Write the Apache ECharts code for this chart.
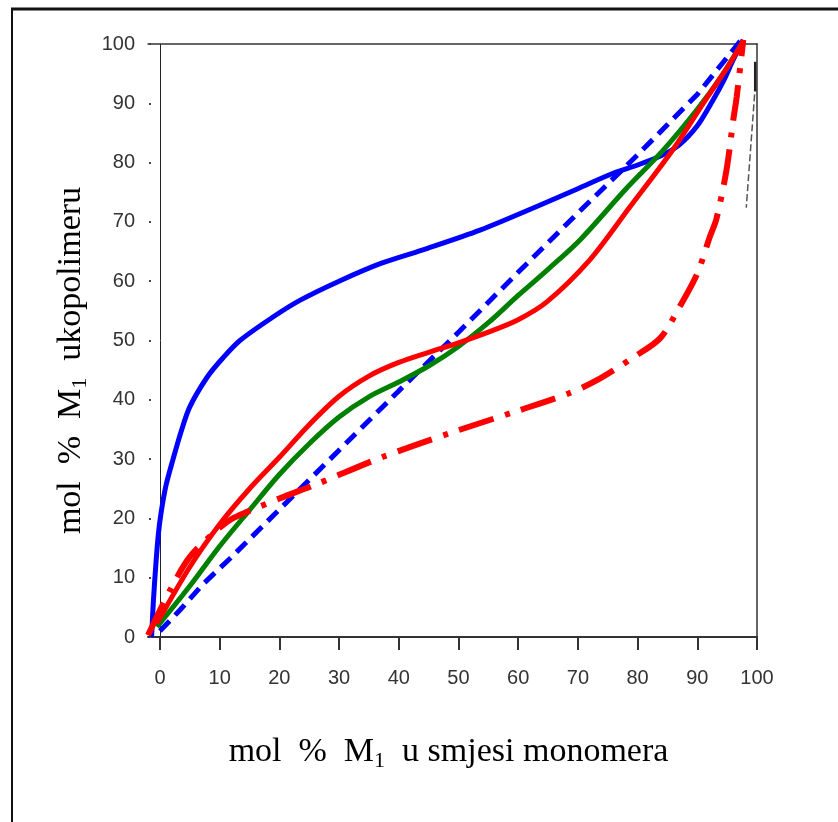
<!DOCTYPE html>
<html><head><meta charset="utf-8">
<script src="https://cdn.jsdelivr.net/npm/echarts@6/dist/echarts.min.js"></script>
<style>html,body{margin:0;padding:0;background:#fff}#c{width:838px;height:822px}</style>
</head><body><div id="c"></div>
<script>
// x = mol % M1 in monomer feed, y = mol % M1 in copolymer
const blueSolid = [[-1.4,0],[-1.1,6],[-0.7,12],[-0.3,17],[0.2,21],[1,25.5],[2.2,30],[3.5,34.5],[5,38.8],[7.9,43.8],[10.5,47],[13.4,50],[19,54],[23.5,56.8],[30,60],[37,63],[44.7,65.5],[53.6,68.6],[63.6,72.8],[70,75.6],[75.9,78.2],[80,79.6],[84,81.2],[87,83],[90,86.2],[92.5,90.3],[94.5,94],[96,97.3],[97.7,100.7]];
const blueDashed = [[0,1],[3.4,4.6],[7.2,8.9],[11.7,13.2],[20,21.5],[30,31.5],[40,41.5],[50,51.4],[60,61.5],[70,71.5],[80,81.3],[90,91.5],[98,101.5]];
const greenSolid = [[-0.5,1.7],[5,8.6],[10,15.3],[15,21.4],[20,27.4],[25,32.6],[30,37.1],[35,40.5],[40,43],[45,45.7],[50,49],[55,53],[60,57.6],[65,62],[70.4,67],[78,75.5],[84.3,82.1],[90,89],[94,94.5],[97.7,100.5]];
const redSolid = [[-0.5,2.3],[5,11.8],[10,19],[15,25],[20,30.3],[25,35.8],[30,40.6],[35,44],[40,46.3],[45,48],[50,49.6],[55,51.4],[60,53.5],[64.8,56.5],[72,63.6],[78.7,72.5],[86,82.3],[91,90],[95,96],[97.7,100.5]];
const redDashDot = [[-2,0.3],[1.7,7.9],[5,13.5],[9.5,18],[12,19.9],[14.6,21.1],[20.1,23.4],[26.3,25.8],[37.4,30.4],[48.6,34.4],[59.8,38.1],[68.5,41.1],[73.2,43.3],[79.2,47.1],[83.8,50.4],[87.1,55.8],[90,61.3],[92.1,67.5],[93.2,70.5],[94.9,78.8],[96,87],[96.6,91.1],[97.7,100.7]];
const strayMarkSolid = [[99.7,97],[99.7,92]];
const strayMarkDashed = [[99.6,91.5],[98.2,72.4]];
const xTickValues = [0,10,20,30,40,50,60,70,80,90,100];
const yTickValues = [0,10,20,30,40,50,60,70,80,90,100];
const xTitle = '{a|mol  %  M}{s|1}{a|  u smjesi monomera}';
const yTitle = '{a|mol  %  M}{s|1}{a|  ukopolimeru}';

const chart = echarts.init(document.getElementById('c'), null, {renderer:'canvas'});
const lab = {color:'#333', fontFamily:'Liberation Sans, Arial, sans-serif', fontSize:20};
const titleRich = {
  a:{fontFamily:'Liberation Serif, Times New Roman, serif', fontSize:34, color:'#000', lineHeight:40},
  s:{fontFamily:'Liberation Serif, Times New Roman, serif', fontSize:22, color:'#000', verticalAlign:'bottom', lineHeight:27}
};
const lineS = (name, data, color, type, width) => ({
  name, type:'line', data, symbol:'none', smooth:0.3, clip:false,
  xAxisIndex:0, yAxisIndex:0,
  lineStyle:{color, width, type, cap:'butt'}, z:3
});
chart.setOption({
  animation:false,
  backgroundColor:'#fff',
  grid:{left:148, right:81, top:44, bottom:185, containLabel:false},
  graphic:[
    {type:'line', shape:{x1:11, y1:9, x2:838, y2:9}, style:{stroke:'#111', lineWidth:3}},
    {type:'line', shape:{x1:12, y1:8, x2:12, y2:822}, style:{stroke:'#111', lineWidth:2}}
  ],
  xAxis:[
    {type:'value', position:'bottom', min:-2, max:100,
     axisLine:{show:true, onZero:false, lineStyle:{color:'#333', width:2}},
     axisTick:{show:true, length:13, customValues:xTickValues, lineStyle:{color:'#333', width:2}},
     axisLabel:Object.assign({margin:31, customValues:xTickValues, formatter:v=>String(v)}, lab),
     splitLine:{show:false},
     name:xTitle, nameLocation:'middle', nameGap:95,
     nameTextStyle:{rich:titleRich, padding:[0,8,0,0]}},
    {type:'value', position:'top', min:-2, max:100,
     axisLine:{show:true, onZero:false, lineStyle:{color:'#333', width:1.5}},
     axisTick:{show:false}, axisLabel:{show:false}, splitLine:{show:false}}
  ],
  yAxis:[
    {type:'value', position:'left', min:0, max:100, interval:10,
     axisLine:{show:true, onZero:true, lineStyle:{color:'#222', width:1}},
     axisTick:{show:false}, axisLabel:{show:false}, splitLine:{show:false}},
    {type:'value', position:'right', min:0, max:100, interval:10,
     axisLine:{show:true, onZero:false, lineStyle:{color:'#333', width:1.5}},
     axisTick:{show:false}, axisLabel:{show:false}, splitLine:{show:false}},
    {type:'value', position:'left', offset:-3, min:0, max:100, interval:10,
     axisLine:{show:false, onZero:false},
     axisTick:{show:true, length:2, customValues:yTickValues, lineStyle:{color:'#444', width:2}},
     axisLabel:Object.assign({margin:16, customValues:yTickValues, formatter:v=>String(v)}, lab),
     splitLine:{show:false},
     name:yTitle, nameLocation:'middle', nameGap:56, nameRotate:90,
     nameTextStyle:{rich:titleRich, padding:[0,40,0,0]}}
  ],
  series:[
    lineS('blueSolid', blueSolid, '#0000ff', 'solid', 5),
    Object.assign(lineS('blueDashed', blueDashed, '#0000ff', [14,8], 5), {smooth:false}),
    lineS('greenSolid', greenSolid, '#008000', 'solid', 5),
    lineS('redSolid', redSolid, '#ff0000', 'solid', 5),
    lineS('redDashDot', redDashDot, '#ff0000', [36,12,5,12], 6),
    Object.assign(lineS('strayA', strayMarkSolid, '#222', 'solid', 2.5), {smooth:false}),
    Object.assign(lineS('strayB', strayMarkDashed, '#555', [7,3], 1.5), {smooth:false})
  ]
});
</script></body></html>
